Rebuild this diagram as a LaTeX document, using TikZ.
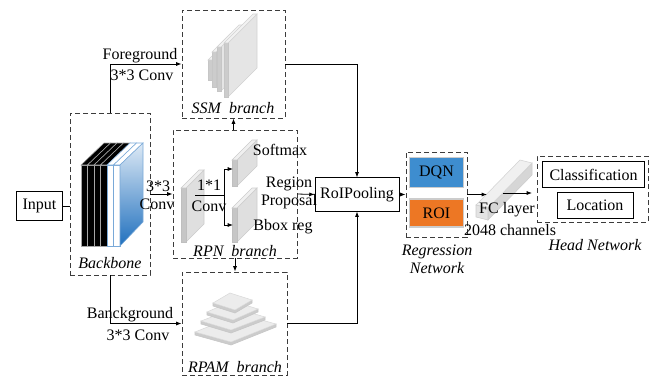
\documentclass[tikz,border=0pt]{standalone}
\usepackage{fontspec}
\setmainfont{Liberation Serif}
\usetikzlibrary{arrows.meta, positioning, fit, calc}
\definecolor{dqnblue}{RGB}{62,141,207}
\definecolor{roiorange}{RGB}{237,119,36}
\definecolor{bbblue}{RGB}{32,112,190}
\definecolor{dashgray}{RGB}{60,60,60}
\tikzstyle{dbox} = [draw=dashgray, dash pattern=on 4pt off 2pt, line width=0.7pt, inner sep=0pt]
\tikzstyle{arrow} = [-{Latex[length=4pt,width=3pt]}, line width=0.6pt]

\begin{document}
\begin{tikzpicture}[
  x=0.75pt, y=-0.75pt,
  every node/.style={font=\fontsize{12}{13.5}\selectfont},
  tbox/.style={rectangle, draw=black, line width=0.6pt, align=center},
  colbox/.style={rectangle, draw=gray!40, line width=0.8pt, minimum width=40pt, align=center},
  tag/.style={font=\fontsize{12}{13.5}\selectfont\itshape, align=center},
  slab/.style={fill=gray!25, draw=gray!40, line width=0.4pt}
]
\useasboundingbox (0,0) rectangle (655,383);

% Boxes
\node[tbox, minimum width=35pt, minimum height=22pt] (input) at (39.5,206) {Input};
\node[dbox, fit={(70,113) (150,275)}] (backbone) {};
\node[dbox, fit={(182,10) (285,118)}] (ssm) {};
\node[dbox, fit={(173,130) (297,258)}] (rpn) {};
\node[dbox, fit={(182,272) (287,375)}] (rpam) {};
\node[tbox, minimum width=63pt, minimum height=25pt] (roi) at (357,194.5) {RoIPooling};
\node[dbox, fit={(406,152) (467,237)}] (regnet) {};
\node[colbox, fill=dqnblue, minimum height=22pt] (dqn) at (436.5,172.5) {DQN};
\node[colbox, fill=roiorange, minimum height=21pt] (roibox) at (436.5,213) {ROI};
\node[dbox, fit={(537,156) (648,222)}] (head) {};
\node[tbox, minimum width=76pt, minimum height=19pt] (cls) at (593.5,174.5) {Classification};
\node[tbox, minimum width=57pt, minimum height=19pt] (loc) at (595,205.5) {Location};

% Backbone feature maps
\foreach \i in {0,...,3} {
  \filldraw[fill=black, draw=gray!70, line width=0.4pt] ({81+6.5*\i},165) rectangle ++(6.5,81);
  \filldraw[fill=black, draw=gray!70, line width=0.4pt] ({81+6.5*\i},165) -- ++(23,-22) -- ++(6.5,0) -- ++(-23,22) -- cycle;
}
\foreach \i in {4,5} {
  \filldraw[fill=white, draw=bbblue!60, line width=0.4pt] ({81+6.5*\i},165) rectangle ++(6.5,81);
  \filldraw[fill=white, draw=bbblue!60, line width=0.4pt] ({81+6.5*\i},165) -- ++(23,-22) -- ++(6.5,0) -- ++(-23,22) -- cycle;
}
\shade[top color=bbblue!15, bottom color=bbblue] (120,165) -- (143,143) -- (143,222) -- (120,246) -- cycle;
\draw[bbblue!60, line width=0.4pt] (120,165) -- (143,143) -- (143,222) -- (120,246) -- cycle;

% SSM feature maps
\foreach \sx/\st/\sb/\sd in {212/60/80/14, 216/52/87/18, 221/47/91/22, 228/43/97/29} {
  \filldraw[fill=gray!20, draw=gray!35] (\sx,\st) -- ++(\sd,-\sd) -- ++(0,\sb-\st) -- (\sx,\sb) -- cycle;
  \filldraw[fill=gray!40, draw=gray!45] (\sx-4,\st) rectangle (\sx,\sb);
  \filldraw[fill=gray!10, draw=gray!35] (\sx-4,\st) -- ++(\sd,-\sd) -- ++(4,0) -- (\sx,\st) -- cycle;
}

% RPN feature maps
\foreach \sx/\st/\sb/\sd in {186/188/242/18, 237/160/186/20, 237/208/242/20} {
  \filldraw[slab] (\sx,\st) -- ++(\sd,-\sd) -- ++(0,\sb-\st) -- (\sx,\sb) -- cycle;
  \filldraw[fill=gray!45, draw=gray!50] (\sx-5,\st) rectangle (\sx,\sb);
  \filldraw[fill=gray!12, draw=gray!40] (\sx-5,\st) -- ++(\sd,-\sd) -- ++(5,0) -- (\sx,\st) -- cycle;
}

% RPAM pyramid
\foreach \lx/\ly/\ax/\ay/\bx/\by in {195/332/45/-18/36/10, 201/321/34/-13/30/9, 207/312/25/-11/26/8, 213/303/17/-10/22/7} {
  \filldraw[fill=gray!40, draw=gray!45] (\lx,\ly) -- ++(\bx,\by) -- ++(\ax,\ay) -- ++(0,3) -- ++({0-(\ax)},{0-(\ay)}) -- ++({0-(\bx)},{0-(\by)}) -- cycle;
  \filldraw[fill=gray!15, draw=gray!30] (\lx,\ly) -- ++(\ax,\ay) -- ++(\bx,\by) -- ++({0-(\ax)},{0-(\ay)}) -- cycle;
}

% FC layer
\filldraw[fill=gray!32, draw=gray!40] (488,208) -- ++(44,-45) -- ++(0,12) -- (488,220) -- cycle;
\filldraw[fill=gray!12, draw=gray!35] (476,205) -- ++(44,-45) -- ++(12,3) -- (488,208) -- cycle;
\filldraw[fill=gray!22, draw=gray!40] (476,205) -- (488,208) -- (488,220) -- (476,217) -- cycle;

% Labels
\node[tag] (bbtag) at (110,263) {Backbone};
\node[tag] (ssmtag) at (233,108) {SSM\enspace branch};
\node[tag] (rpntag) at (235,251) {RPN\enspace branch};
\node[tag] (rpamtag) at (235,367) {RPAM\enspace branch};
\node[tag] (regtag) at (437,259) {Regression\\Network};
\node[tag] (headtag) at (595,245) {Head Network};
\node (fgtext) at (140,56) {Foreground};
\node (fgconv) at (142,75) {3*3 Conv};
\node (bgtext) at (130,315) {Banckground};
\node (bgconv) at (138,335) {3*3 Conv};
\node (bbconvA) at (158,186) {3*3};
\node (bbconvB) at (157,204) {Conv};
\node (oneconvA) at (209,185) {1*1};
\node (oneconvB) at (209,206) {Conv};
\node (softmax) at (280,150) {Softmax};
\node[align=center] (proposal) at (289,193) {Region\\Proposal};
\node (bboxreg) at (283,227) {Bbox reg};
\node (fctext) at (507,210) {FC layer};
\node (fcchan) at (510,230) {2048 channels};

% Arrows
\coordinate (convout) at (195,195);
\coordinate (fork) at (224,195);
\coordinate (smx) at (233,169);
\coordinate (bbx) at (233,225);
\coordinate (fcin) at (487,194.5);
\coordinate (fcstart) at (503,193);
\coordinate (fcend) at (532,193);
\draw[line width=0.6pt] (input.east) -- (input.east -| backbone.west);
\draw[arrow] (backbone.east) -- (rpn.west);
\draw[arrow] (backbone.north) |- (ssm.west);
\draw[arrow] (backbone.south) |- (rpam.west);
\draw[arrow] (ssm.south |- rpn.north) -- (ssm.south);
\draw[arrow] (rpn.south) -- (rpn.south |- rpam.north);
\draw[line width=0.6pt] (convout) -- (fork);
\draw[arrow] (fork) |- (smx);
\draw[arrow] (fork) |- (bbx);
\draw[arrow] (rpn.east) -- (roi.west);
\draw[arrow] (ssm.east) -| (roi.north);
\draw[arrow] (rpam.east) -| (roi.south);
\draw[arrow] (roi.east) -- (regnet.west);
\draw[arrow] (regnet.east) -- (fcin);
\draw[arrow] (fcstart) -- (fcend);

\end{tikzpicture}
\end{document}
